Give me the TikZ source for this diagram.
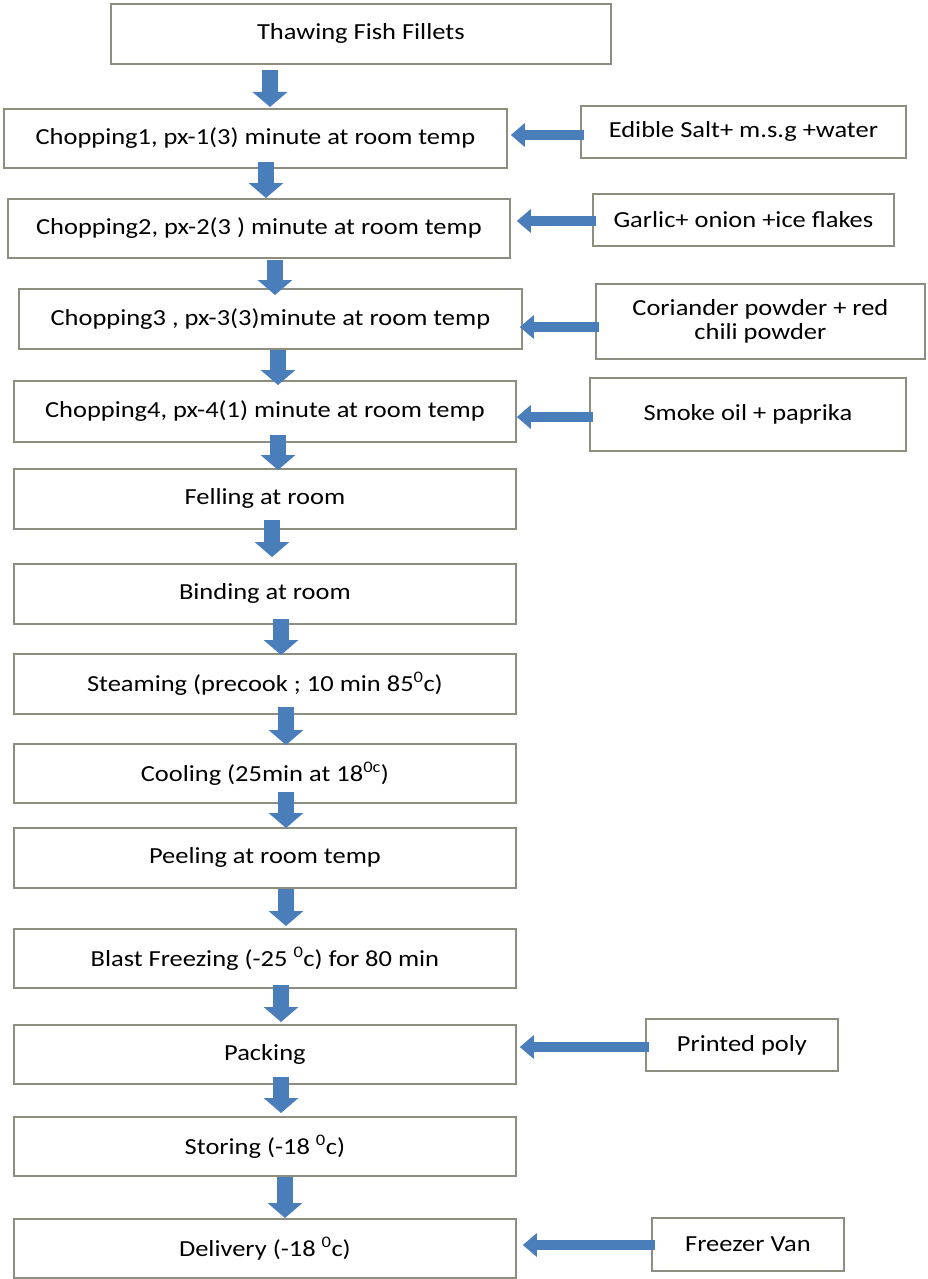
\documentclass[tikz,border=0pt]{standalone}
\usepackage{fontspec}
\setmainfont{Carlito}[FakeStretch=1.15]
\usetikzlibrary{arrows.meta,calc}
\definecolor{boxline}{HTML}{8E8E80}
\definecolor{arrowblue}{HTML}{4A7EBB}
\tikzset{
  box/.style={draw=boxline, line width=1.8pt, fill=white, anchor=north west,
    inner sep=2pt, align=center, font=\fontsize{23}{24}\selectfont},
  downarrow/.style={draw=arrowblue, line width=16pt,
    -{Triangle[width=34pt,length=15pt]}},
  leftarrow/.style={draw=arrowblue, line width=10pt,
    -{Triangle[width=23pt,length=14pt]}},
}
\newcommand{\bx}[6]{\node[box, minimum width=#4-#2, minimum height=#5-#3] (#1) at (#2,#3) {#6};}
% down arrow: from node #1 to node #2 at x=#3, start raised by #4, end lowered by #5
\newcommand{\darrow}[5]{\draw[downarrow] ($(#1.south -| #3,0)+(0,-#4)$) -- ($(#2.north -| #3,0)+(0,#5)$);}
% left arrow: from side node #1 to main node #2 at y=#3, end shifted right by #4
\newcommand{\larrow}[4]{\draw[leftarrow] ($(#1.west |- 0,#3)+(4,0)$) -- ($(#2.east |- 0,#3)+(#4,0)$);}
\begin{document}
\begin{tikzpicture}[x=1pt,y=-1pt]
\useasboundingbox (0,0) rectangle (927,1279);
% main boxes
\bx{thaw}{110}{3}{610}{63}{Thawing Fish Fillets}
\bx{c1}{3}{108}{506}{167}{Chopping1, px-1(3) minute at room temp}
\bx{c2}{7}{198}{509}{257}{Chopping2, px-2(3 ) minute at room temp}
\bx{c3}{18}{288}{521}{348}{Chopping3 , px-3(3)minute at room temp}
\bx{c4}{13}{380}{515}{441}{Chopping4, px-4(1) minute at room temp}
\bx{fell}{13}{468}{515}{528}{Felling at room}
\bx{bind}{13}{563}{515}{623}{Binding at room}
\bx{steam}{13}{653}{515}{713}{Steaming (precook ; 10 min 85\textsuperscript{0}c)}
\bx{cool}{13}{743}{515}{802}{Cooling (25min at 18\textsuperscript{0c})}
\bx{peel}{13}{827}{515}{887}{Peeling at room temp}
\bx{blast}{13}{928}{515}{987}{Blast Freezing (-25 \textsuperscript{0}c) for 80 min}
\bx{pack}{13}{1024}{515}{1083}{Packing}
\bx{store}{13}{1116}{515}{1175}{Storing (-18 \textsuperscript{0}c)}
\bx{deliv}{13}{1218}{515}{1277}{Delivery (-18 \textsuperscript{0}c)}
% side boxes
\bx{salt}{580}{105}{905}{157}{Edible Salt+ m.s.g +water}
\bx{garlic}{592}{193}{893}{245}{Garlic+ onion +ice flakes}
\bx{cor}{595}{283}{924}{358}{Coriander powder + red\\chili powder}
\bx{smoke}{589}{377}{905}{450}{Smoke oil + paprika}
\bx{poly}{645}{1018}{837}{1070}{Printed poly}
\bx{van}{651}{1217}{843}{1270}{Freezer Van}
% down arrows
\darrow{thaw}{c1}{270}{-5}{-1}
\darrow{c1}{c2}{266}{7}{0}
\darrow{c2}{c3}{275}{-1}{7}
\darrow{c3}{c4}{278}{0}{5}
\darrow{c4}{fell}{278}{8}{2}
\darrow{fell}{bind}{272}{10}{-6}
\darrow{bind}{steam}{281}{6}{2}
\darrow{steam}{cool}{286}{8}{2}
\darrow{cool}{peel}{286}{12}{1}
\darrow{peel}{blast}{286}{0}{-2}
\darrow{blast}{pack}{281}{4}{-2}
\darrow{pack}{store}{281}{8}{-3}
\darrow{store}{deliv}{285}{0}{0}
% left arrows
\larrow{salt}{c1}{135}{3}
\larrow{garlic}{c2}{221}{6}
\larrow{cor}{c3}{327}{-3}
\larrow{smoke}{c4}{417}{0}
\larrow{poly}{pack}{1047}{3}
\larrow{van}{deliv}{1245}{6}
\end{tikzpicture}
\end{document}
